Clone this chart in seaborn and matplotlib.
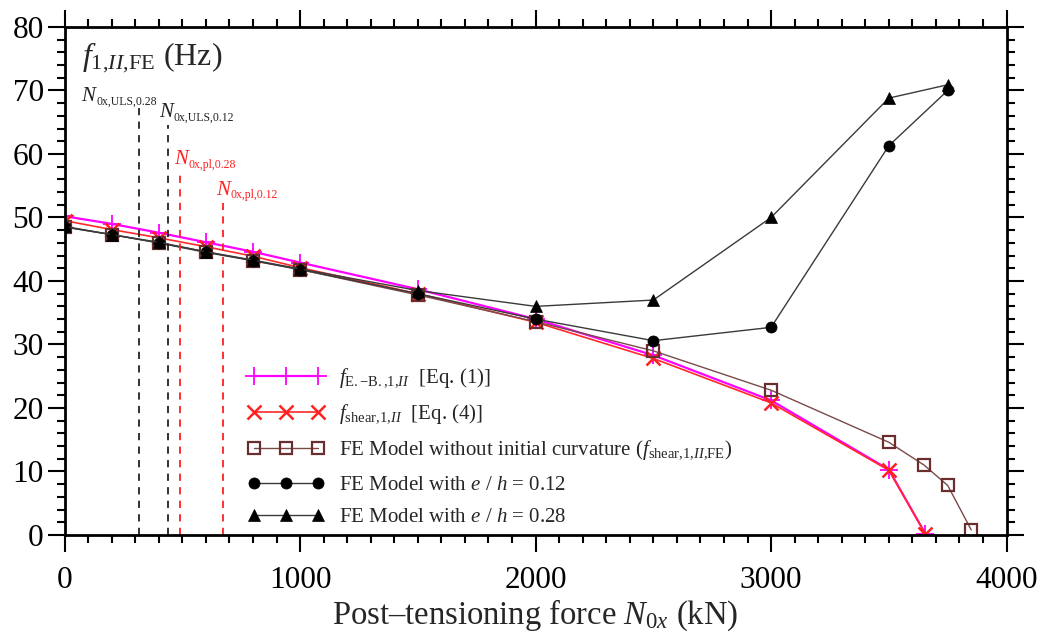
import numpy as np
import pandas as pd
import seaborn as sns
import matplotlib.pyplot as plt
from matplotlib.ticker import MultipleLocator

# Natural frequency vs post-tensioning force: analytical curves and FE results

force_eb = [0, 200, 400, 600, 800, 1000, 1500, 2000, 2500, 3000, 3500, 3655]
freq_eb = [50.2, 49.0, 47.6, 46.1, 44.6, 42.9, 38.7, 34.0, 28.3, 21.2, 10.3, 0.2]

force_shear = [0, 200, 400, 600, 800, 1000, 1500, 2000, 2500, 3000, 3500, 3655]
freq_shear = [49.5, 48.1, 46.8, 45.4, 43.9, 42.1, 38.0, 33.5, 27.8, 20.8, 10.2, 0.2]

force_fe = [0, 200, 400, 600, 800, 1000, 1500, 2000, 2500, 3000, 3500, 3650, 3750, 3850]
freq_fe = [48.5, 47.3, 46.0, 44.6, 43.2, 41.8, 37.8, 33.6, 29.0, 22.8, 14.6, 11.0, 7.8, 0.8]

force_e012 = [0, 200, 400, 600, 800, 1000, 1500, 2000, 2500, 3000, 3500, 3750]
freq_e012 = [48.5, 47.3, 46.0, 44.5, 43.2, 41.8, 38.0, 34.0, 30.6, 32.7, 61.3, 70.0]

force_e028 = [0, 200, 400, 600, 800, 1000, 1500, 2000, 2500, 3000, 3500, 3750]
freq_e028 = [48.6, 47.3, 46.1, 44.6, 43.3, 41.9, 38.5, 36.0, 37.0, 50.0, 68.8, 70.9]

# reference forces (dashed verticals): x, top of line, label x, label y
limit_names = ["0x,ULS,0.28", "0x,ULS,0.12", "0x,pl,0.28", "0x,pl,0.12"]
limit_force = [318, 437, 488, 671]
limit_top = [67.2, 64.6, 57.2, 52.3]
limit_label_x = [72, 400, 465, 642]
limit_label_y = [68.3, 65.8, 58.4, 53.6]
limit_colors = ["#222222", "#222222", "#ff2020", "#ff2020"]

sns.set_style("ticks")
plt.rcParams["font.family"] = ["Liberation Serif", "DejaVu Serif"]
plt.rcParams["mathtext.fontset"] = "custom"
plt.rcParams["mathtext.rm"] = "Liberation Serif"
plt.rcParams["mathtext.it"] = "Liberation Serif:italic"
plt.rcParams["mathtext.bf"] = "Liberation Serif:bold"

fig = plt.figure(figsize=(10.42, 6.35), dpi=100)
ax = fig.add_axes([0.062, 0.1575, 0.904, 0.8])

series = [
    (force_eb, freq_eb, r"$f_{\mathrm{E.{-}B.{,}1{,}}II}$  [Eq. (1)]",
     dict(color="#ff00ff", marker="+", markersize=13, mew=1.3, lw=1.6,
          mfc="#ff00ff", mec="#ff00ff")),
    (force_shear, freq_shear, r"$f_{\mathrm{shear{,}1{,}}II}$  [Eq. (4)]",
     dict(color="#ff2a2a", marker="x", markersize=10, mew=1.8, lw=1.2,
          mfc="#ff2a2a", mec="#ff2020")),
    (force_fe, freq_fe, r"FE Model without initial curvature ($f_{\mathrm{shear{,}1{,}}II\mathrm{{,}FE}}$)",
     dict(color="#7a4a4a", marker="s", markersize=9, mew=1.6, lw=1.0,
          mfc="none", mec="#6b2e2e")),
    (force_e012, freq_e012, r"FE Model with $e$ / $h$ = 0.12",
     dict(color="#3a3a3a", marker="o", markersize=8, mew=0.5, lw=1.0,
          mfc="black", mec="black")),
    (force_e028, freq_e028, r"FE Model with $e$ / $h$ = 0.28",
     dict(color="#3a3a3a", marker="^", markersize=9, mew=0.5, lw=1.0,
          mfc="black", mec="black")),
]

for xs, ys, label, style in series:
    df = pd.DataFrame({"x": xs, "y": ys})
    sns.lineplot(data=df, x="x", y="y", ax=ax, sort=False, estimator=None,
                 label=label, **style)

for name, xf, top, lx, ly, c in zip(limit_names, limit_force, limit_top,
                                    limit_label_x, limit_label_y, limit_colors):
    ax.plot([xf, xf], [0, top], ls=(0, (4, 3.5)), color=c, lw=1.3)
    n_txt = ax.text(lx, ly, "N", style="italic", color=c, fontsize=15,
                    va="baseline")
    ax.annotate(name, xy=(1, 0), xycoords=n_txt, xytext=(0.5, -1),
                textcoords="offset points", color=c, fontsize=8.5, va="bottom")

ax.text(72, 75.2, r"$f_{\mathrm{1{,}}II\mathrm{{,}FE}}$ (Hz)", fontsize=23, va="center")

ax.set_xlim(0, 4000)
ax.set_ylim(0, 80)
ax.xaxis.set_major_locator(MultipleLocator(1000))
ax.xaxis.set_minor_locator(MultipleLocator(100))
ax.yaxis.set_major_locator(MultipleLocator(10))
ax.yaxis.set_minor_locator(MultipleLocator(2))
ax.tick_params(which="both", direction="out", top=True, right=True, width=1.5,
               colors="black")
ax.tick_params(which="major", length=12, labelsize=22.5, pad=3)
ax.tick_params(axis="x", which="major", pad=10)
ax.tick_params(which="minor", length=6)
for sp in ax.spines.values():
    sp.set_linewidth(2)
    sp.set_visible(True)
    sp.set_color("black")

ax.set_xlabel(r"Post–tensioning force $N_{0x}$ (kN)", fontsize=23.5, labelpad=2)
ax.set_ylabel("")

ax.legend(loc="lower left", bbox_to_anchor=(0.194, 0.015), frameon=False,
          fontsize=15, numpoints=3, handlelength=3.7, labelspacing=0.62,
          handletextpad=0.7, borderaxespad=0, borderpad=0)

fig.savefig("out.png", dpi=100)
